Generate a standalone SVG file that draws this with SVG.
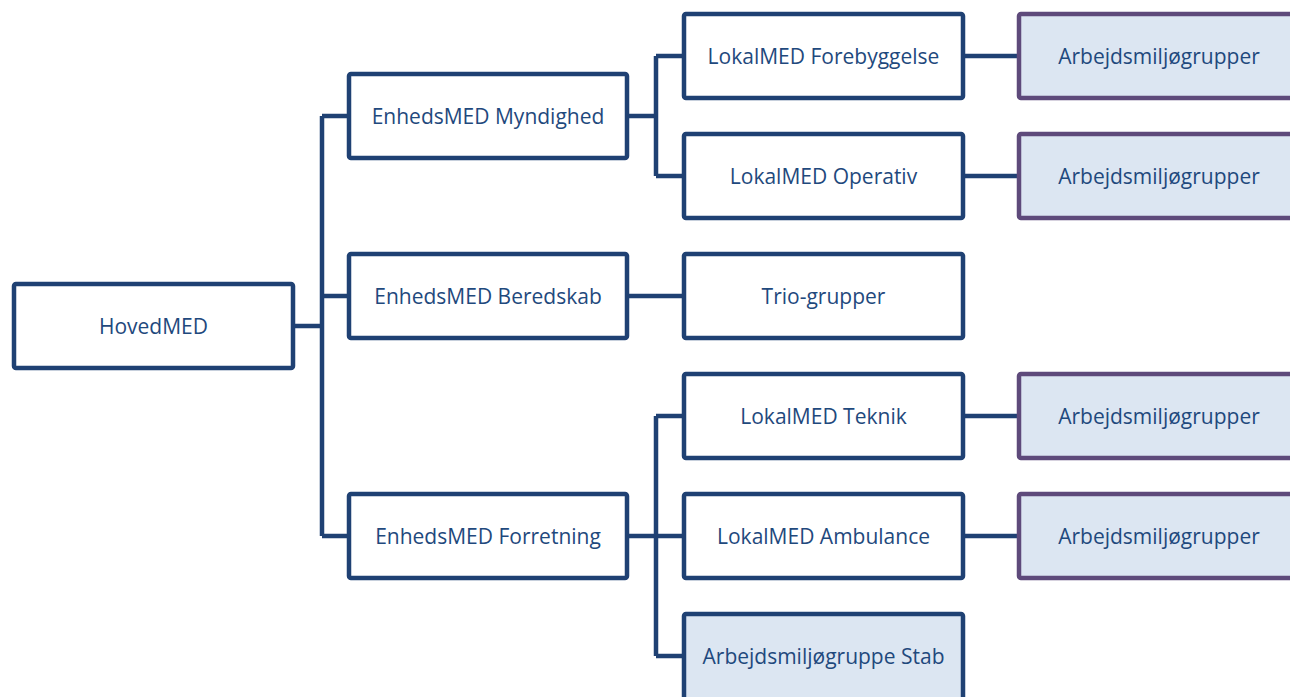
<svg xmlns="http://www.w3.org/2000/svg" width="1290" height="697" viewBox="0 0 1290 697">
<style>
.box{fill:#ffffff;stroke:#1f4173;stroke-width:4.5}
.sub{fill:#dce6f2;stroke:#1f4173;stroke-width:4.5}
.arb{fill:#dce6f2;stroke:#5e4a7b;stroke-width:4.5}
.lbl{font-family:"Open Sans","Liberation Sans",sans-serif;font-size:21px;fill:#1f497d;text-anchor:middle}
.con{fill:none;stroke:#1f4173;stroke-width:4.5;stroke-linejoin:miter}
</style>
<rect width="1290" height="697" fill="#ffffff"/>
<g id="connectors">
<path class="con" d="M295 326 H322 M322 116 V536 M322 116 H347 M322 296 H347 M322 536 H347"/>
<path class="con" d="M629 116 H656 M656 56 V176 M656 56 H682 M656 176 H682"/>
<path class="con" d="M629 296 H682"/>
<path class="con" d="M629 536 H656 M656 416 V656 M656 416 H682 M656 536 H682 M656 656 H682"/>
<path class="con" d="M965 56 H1017 M965 176 H1017 M965 416 H1017 M965 536 H1017"/>
</g>
<g id="hovedmed"><rect class="box" x="14" y="284" width="279" height="84" rx="2"/><text class="lbl" x="153.5" y="333.5">HovedMED</text></g>
<g id="em-myndighed"><rect class="box" x="349" y="74" width="278" height="84" rx="2"/><text class="lbl" x="488" y="123.5">EnhedsMED Myndighed</text></g>
<g id="em-beredskab"><rect class="box" x="349" y="254" width="278" height="84" rx="2"/><text class="lbl" x="488" y="303.5">EnhedsMED Beredskab</text></g>
<g id="em-forretning"><rect class="box" x="349" y="494" width="278" height="84" rx="2"/><text class="lbl" x="488" y="543.5">EnhedsMED Forretning</text></g>
<g id="lm-forebyggelse"><rect class="box" x="684" y="14" width="279" height="84" rx="2"/><text class="lbl" x="823.5" y="63.5">LokalMED Forebyggelse</text></g>
<g id="lm-operativ"><rect class="box" x="684" y="134" width="279" height="84" rx="2"/><text class="lbl" x="823.5" y="183.5">LokalMED Operativ</text></g>
<g id="trio"><rect class="box" x="684" y="254" width="279" height="84" rx="2"/><text class="lbl" x="823.5" y="303.5">Trio-grupper</text></g>
<g id="lm-teknik"><rect class="box" x="684" y="374" width="279" height="84" rx="2"/><text class="lbl" x="823.5" y="423.5">LokalMED Teknik</text></g>
<g id="lm-ambulance"><rect class="box" x="684" y="494" width="279" height="84" rx="2"/><text class="lbl" x="823.5" y="543.5">LokalMED Ambulance</text></g>
<g id="amg-stab"><rect class="sub" x="684" y="614" width="279" height="86" rx="2"/><text class="lbl" x="823.5" y="663.5">Arbejdsmiljøgruppe Stab</text></g>
<g id="amg-1"><rect class="arb" x="1019" y="14" width="300" height="84" rx="2"/><text class="lbl" x="1159" y="63.5">Arbejdsmiljøgrupper</text></g>
<g id="amg-2"><rect class="arb" x="1019" y="134" width="300" height="84" rx="2"/><text class="lbl" x="1159" y="183.5">Arbejdsmiljøgrupper</text></g>
<g id="amg-3"><rect class="arb" x="1019" y="374" width="300" height="84" rx="2"/><text class="lbl" x="1159" y="423.5">Arbejdsmiljøgrupper</text></g>
<g id="amg-4"><rect class="arb" x="1019" y="494" width="300" height="84" rx="2"/><text class="lbl" x="1159" y="543.5">Arbejdsmiljøgrupper</text></g>
</svg>
